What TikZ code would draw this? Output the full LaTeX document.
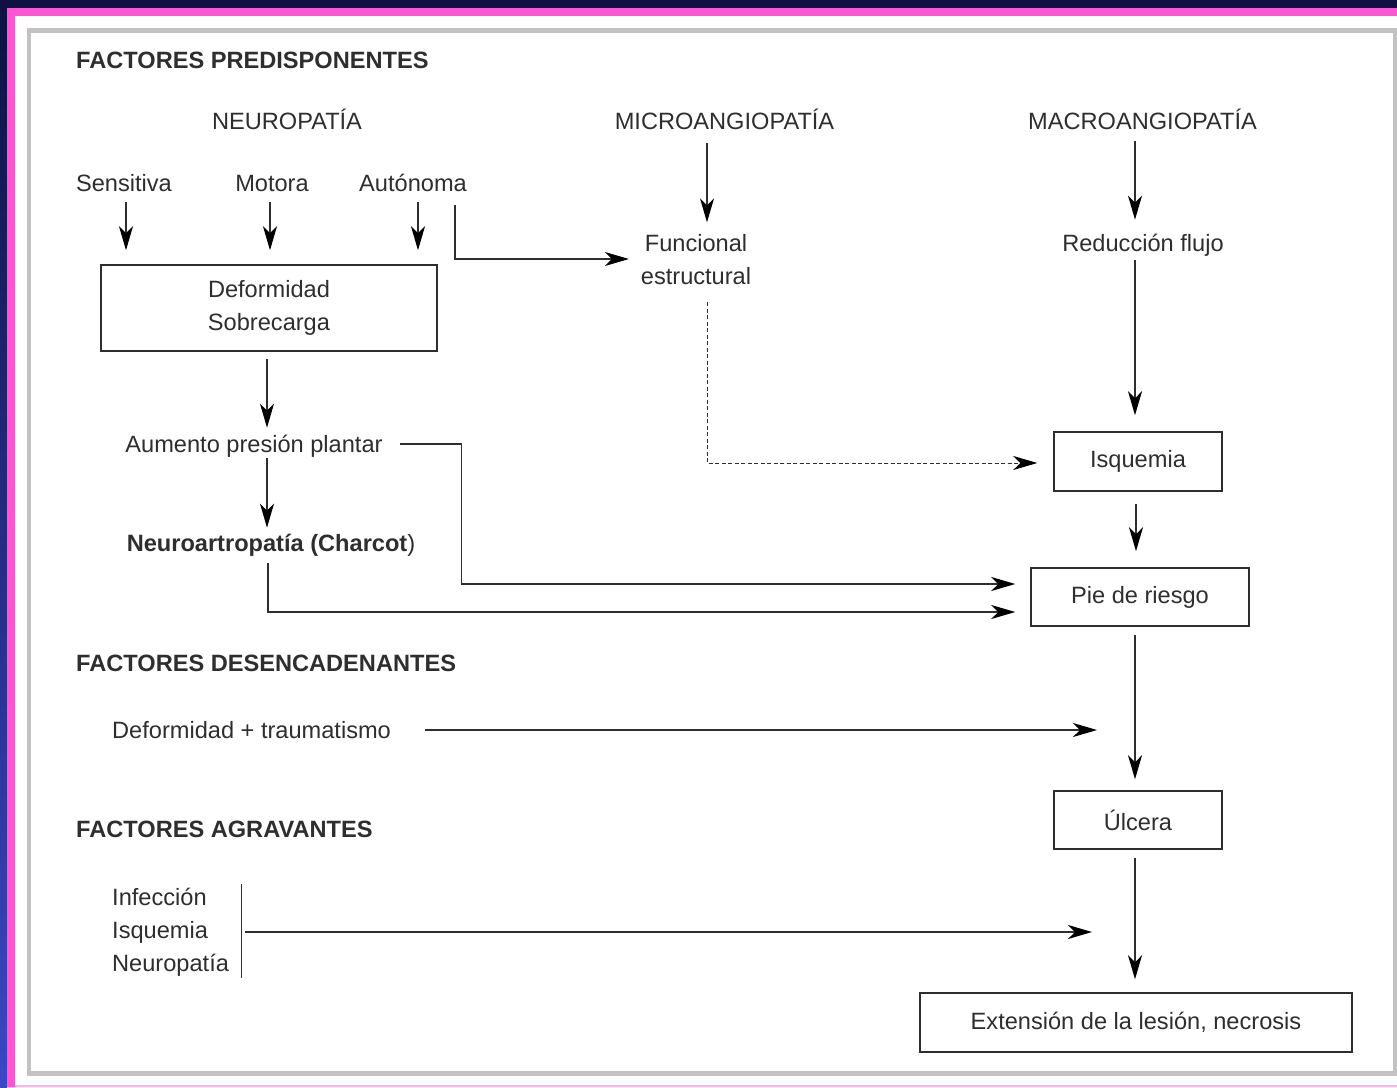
\documentclass[tikz,border=0pt]{standalone}
\usepackage{fontspec}
\setmainfont{Liberation Sans}
\usetikzlibrary{arrows.meta}
\definecolor{tinta}{HTML}{2E2E2E}
\definecolor{marino}{HTML}{0E1142}
\definecolor{azul}{HTML}{3B47C4}
\definecolor{rosa}{HTML}{FF55D2}
\definecolor{rosapal}{HTML}{FFB0EE}
\definecolor{marco}{HTML}{C2C2C2}
\newcommand\tamano{\fontsize{23.6pt}{33pt}\selectfont}
\tikzset{
  etiq/.style={inner sep=0pt,text height=16.9pt,text depth=0pt,text=tinta},
  titulo/.style={etiq,anchor=west,font=\tamano\bfseries},
  caja/.style={draw=tinta,line width=1.5pt,inner sep=0pt,text=tinta},
  flecha/.style={draw=tinta,line width=1.4pt,-{Stealth[length=24pt,width=14pt,inset=7pt,color=black]}},
  punteada/.style={flecha,line width=1pt,dash pattern=on 4pt off 2.5pt}
}
\begin{document}
\begin{tikzpicture}[x=1pt,y=-1pt,font=\tamano]
\useasboundingbox (0,0) rectangle (1397,1087);
\fill[white] (0,0) rectangle (1397,1087);
\shade[top color=marino,bottom color=azul] (0,0) rectangle (7,1087);
\fill[marino] (0,0) rectangle (1397,8);
\fill[rosa] (7,8) rectangle (1397,16);
\fill[rosa] (7,8) rectangle (15,1087);
\fill[rosapal] (15,1084.5) rectangle (1397,1087);
\draw[marco,line width=4.5pt] (29,30.5) rectangle (1395,1073.5);%cadre gris

\node[titulo] (predis) at (76,60) {FACTORES PREDISPONENTES};
\node[etiq] (neuro) at (287,121) {NEUROPATÍA};
\node[etiq] (micro) at (724.5,121) {MICROANGIOPATÍA};
\node[etiq] (macro) at (1142.5,121) {MACROANGIOPATÍA};
\node[etiq] (sens) at (124,183) {Sensitiva};
\node[etiq] (moto) at (272,183) {Motora};
\node[etiq] (auto) at (413,183) {Autónoma};
\node[caja,minimum width=336pt,minimum height=86pt,align=center] (defo) at (269,308) {Deformidad\\Sobrecarga};
\node[text=tinta,inner sep=0pt,align=center] (func) at (696,260) {Funcional\\estructural};
\node[etiq] (redu) at (1143,243) {Reducción flujo};
\node[caja,minimum width=168pt,minimum height=59pt] (isq) at (1138,461.5) {Isquemia};
\node[etiq] (aum) at (254,444) {Aumento presión plantar};
\node[etiq] (charcot) at (271,543) {\textbf{Neuroartropatía (Charcot})};
\node[caja,minimum width=218pt,minimum height=58pt] (pie) at (1140,597) {Pie de riesgo};
\node[titulo] (desen) at (76,663) {FACTORES DESENCADENANTES};
\node[etiq,anchor=west] (trauma) at (112,730) {Deformidad + traumatismo};
\node[caja,minimum width=168pt,minimum height=58pt] (ulc) at (1138,820) {Úlcera};
\node[titulo] (agrav) at (76,829) {FACTORES AGRAVANTES};
\node[text=tinta,inner sep=0pt,align=left,anchor=west] (agr) at (112,932) {Infección\\Isquemia\\Neuropatía};
\node[caja,minimum width=432pt,minimum height=59pt] (ext) at (1136,1022.5) {Extensión de la lesión, necrosis};

\draw[flecha,shorten <=10.7pt,shorten >=14pt] ([xshift=2pt]sens.south) -- ([xshift=2pt]sens.south |- defo.north);
\draw[flecha,shorten <=10.7pt,shorten >=14pt] ([xshift=-2pt]moto.south) -- ([xshift=-2pt]moto.south |- defo.north);
\draw[flecha,shorten <=10.7pt,shorten >=14pt] ([xshift=5pt]auto.south) -- ([xshift=5pt]auto.south |- defo.north);
\draw[flecha,shorten <=13.7pt,shorten >=11.8pt] ([xshift=42pt]auto.south) |- ([yshift=1pt]func.west);
\draw[flecha,shorten <=13.7pt,shorten >=12.3pt] ([xshift=-17.5pt]micro.south) -- ([xshift=-17.5pt]micro.south |- func.north);
\draw[punteada,shorten <=16.7pt,shorten >=16pt] ([xshift=11pt]func.south) |- ([yshift=-1.5pt]isq.west);
\draw[flecha,shorten <=11.7pt,shorten >=14.7pt] ([xshift=-7.5pt]macro.south) -- ([xshift=-7.5pt]macro.south |- redu.north);
\draw[flecha,shorten <=8.7pt,shorten >=16pt] ([xshift=-8pt]redu.south) -- ([xshift=-8pt]redu.south |- isq.north);
\draw[flecha,shorten <=12pt,shorten >=16pt] ([xshift=-2pt]isq.south) -- ([xshift=-2pt]isq.south |- pie.north);
\draw[flecha,shorten <=7pt,shorten >=7.7pt] ([xshift=-2pt]defo.south) -- ([xshift=-2pt]defo.south |- aum.north);
\draw[flecha,shorten <=17pt,shorten >=15pt] (aum.east) -- ++(79,0) |- ([yshift=13pt]pie.west);
\draw[flecha,shorten <=5.7pt,shorten >=6.7pt] ([xshift=13pt]aum.south) -- ([xshift=13pt]aum.south |- charcot.north);
\draw[flecha,shorten <=11.7pt,shorten >=15pt] ([xshift=-3pt]charcot.south) |- ([yshift=-15pt]pie.west);
\draw[flecha,shorten <=34pt,shorten >=41pt] (trauma.east) -- (trauma.east -| ulc.north);
\draw[flecha,shorten <=8pt,shorten >=11pt] ([xshift=-5pt]pie.south) -- ([xshift=-5pt]pie.south |- ulc.north);
\draw[tinta,line width=1.4pt] ([xshift=12.5pt,yshift=4pt]agr.north east) -- ([xshift=12.5pt,yshift=-2pt]agr.south east);
\draw[flecha,shorten <=15.5pt,shorten >=44pt] (agr.east) -- (agr.east -| ext.north);
\draw[flecha,shorten <=8pt,shorten >=13pt] ([xshift=-3pt]ulc.south) -- ([xshift=-3pt]ulc.south |- ext.north);
\end{tikzpicture}
\end{document}
